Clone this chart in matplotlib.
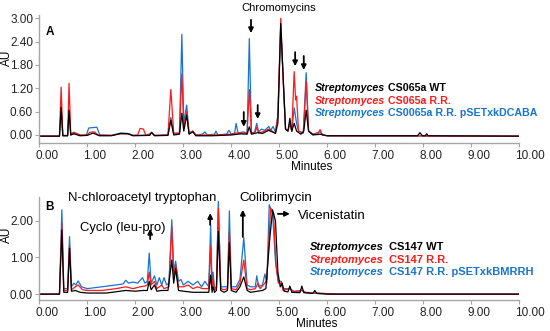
import matplotlib
matplotlib.use("Agg")
import matplotlib.pyplot as plt
import matplotlib.transforms as mtransforms

plt.rcParams['font.family'] = ['Liberation Sans', 'DejaVu Sans']

# ---- panel A : CS065a chromatograms (minutes, AU) ----
a_wt_t = [0, 0.42, 0.455, 0.49, 0.59, 0.62, 0.655, 0.72, 0.85, 1.0, 1.12, 1.25, 1.5, 1.7, 1.85, 1.95,
          2.3, 2.34, 2.4, 2.68, 2.74, 2.8, 2.92, 2.97, 3.01, 3.07, 3.12, 3.2, 3.26, 3.6, 4.0, 4.2,
          4.33, 4.375, 4.42, 4.55, 4.65, 4.78, 4.85, 4.92, 4.97, 5.03, 5.08, 5.13, 5.18, 5.22, 5.26,
          5.31, 5.36, 5.45, 5.51, 5.56, 5.61, 5.7, 5.85, 6.0, 7.88, 7.93, 7.98, 8.04, 8.07, 8.1, 10]
a_wt_y = [-0.03, -0.03, 0.71, -0.02, -0.02, 0.64, 0.0, 0.03, -0.02, -0.01, 0.05, -0.02, -0.02, 0.04, 0.03, -0.02,
          -0.01, 0.07, -0.02, -0.01, 0.38, 0.0, 0.02, 0.56, 0.1, 0.51, 0.02, 0.08, -0.02, -0.02, 0.0, 0.03,
          0.02, 0.21, 0.02, 0.06, 0.04, 0.12, 0.08, 0.04, 0.3, 2.87, 1.5, 0.15, 0.1, 0.43, 0.1,
          0.3, 0.1, 0.02, 0.1, 0.64, 0.1, 0.0, 0.02, -0.02, -0.02, 0.06, -0.02, -0.02, 0.03, -0.02, -0.03]

a_rr_t = [0, 0.42, 0.455, 0.49, 0.59, 0.62, 0.655, 0.72, 0.85, 1.0, 1.05, 1.15, 1.22, 1.5, 1.7, 1.85,
          1.95, 2.05, 2.1, 2.17, 2.22, 2.34, 2.4, 2.68, 2.74, 2.8, 2.92, 2.97, 3.01, 3.07, 3.12, 3.2,
          3.26, 3.6, 4.0, 4.1, 4.2, 4.33, 4.375, 4.42, 4.5, 4.53, 4.57, 4.65, 4.78, 4.85, 4.92, 4.97,
          5.03, 5.08, 5.13, 5.18, 5.22, 5.26, 5.31, 5.34, 5.36, 5.4, 5.5, 5.56, 5.61, 5.7, 5.8, 5.85,
          5.9, 6.0, 10]
a_rr_y = [-0.03, -0.03, 1.23, -0.01, -0.01, 1.33, 0.03, 0.07, 0.0, 0.0, 0.07, 0.08, 0.0, -0.01, 0.03, 0.03,
          -0.01, 0.0, 0.17, 0.15, -0.01, 0.05, -0.01, 0.0, 1.17, 0.05, 0.05, 1.57, 0.2, 0.6, 0.05, 0.1,
          0.0, 0.0, 0.02, 0.05, 0.05, 0.05, 1.17, 0.05, 0.08, 0.2, 0.05, 0.08, 0.15, 0.1, 0.05, 0.5,
          3.0, 1.4, 0.15, 0.1, 0.3, 0.1, 1.63, 0.9, 1.0, 0.1, 0.05, 1.37, 0.1, 0.02, 0.02, 0.14,
          0.0, -0.02, -0.03]

a_px_t = [0, 0.42, 0.455, 0.49, 0.59, 0.62, 0.655, 0.72, 0.85, 0.98, 1.03, 1.2, 1.26, 1.5, 1.7, 1.85,
          1.95, 2.3, 2.34, 2.4, 2.68, 2.74, 2.8, 2.92, 2.97, 3.01, 3.07, 3.12, 3.2, 3.26, 3.4, 3.45,
          3.5, 3.65, 3.68, 3.72, 3.9, 3.95, 4.0, 4.07, 4.1, 4.14, 4.25, 4.33, 4.375, 4.42, 4.48, 4.53,
          4.57, 4.63, 4.7, 4.78, 4.82, 4.87, 4.92, 4.97, 5.03, 5.08, 5.13, 5.18, 5.22, 5.26, 5.31, 5.36,
          5.4, 5.5, 5.56, 5.61, 5.7, 5.85, 5.9, 6.0, 10]
a_px_y = [-0.03, -0.03, 0.7, -0.02, -0.02, 0.62, 0.0, 0.05, -0.01, 0.0, 0.18, 0.2, 0.0, -0.01, 0.05, 0.04,
          -0.01, 0.0, 0.06, -0.01, 0.0, 0.45, 0.03, 0.05, 2.59, 0.3, 0.77, 0.05, 0.1, 0.0, 0.02, 0.08,
          0.0, 0.02, 0.1, 0.0, 0.02, 0.12, 0.02, 0.05, 0.3, 0.05, 0.08, 0.05, 2.48, 0.05, 0.05, 0.3,
          0.08, 0.15, 0.12, 0.22, 0.12, 0.22, 0.08, 0.5, 2.78, 1.5, 0.15, 0.1, 0.3, 0.1, 0.7, 0.3,
          0.1, 0.05, 1.6, 0.1, 0.02, 0.08, 0.0, -0.02, -0.03]

# ---- panel B : CS147 chromatograms ----
b_wt_t = [0, 0.42, 0.47, 0.51, 0.59, 0.63, 0.67, 0.75, 0.85, 1.0, 1.4, 1.8, 2.0, 2.15, 2.25, 2.29,
          2.33, 2.4, 2.45, 2.55, 2.68, 2.76, 2.8, 2.84, 2.9, 3.0, 3.2, 3.5, 3.53, 3.57, 3.6, 3.62,
          3.65, 3.69, 3.73, 3.78, 3.85, 3.92, 3.96, 4.0, 4.1, 4.18, 4.26, 4.33, 4.4, 4.55, 4.65, 4.72,
          4.8, 4.86, 4.92, 4.97, 5.02, 5.06, 5.1, 5.18, 5.22, 5.26, 5.43, 5.47, 5.51, 5.7, 5.74, 5.78,
          6.0, 10]
b_wt_y = [0.0, 0.0, 1.75, 0.05, 0.05, 1.25, 0.08, 0.1, 0.05, 0.03, 0.03, 0.1, 0.08, 0.1, 0.1, 0.35,
          0.12, 0.25, 0.08, 0.1, 0.1, 0.93, 0.3, 0.7, 0.1, 0.08, 0.05, 0.05, 0.05, 0.52, 0.05, 0.2,
          0.05, 0.1, 1.71, 0.1, 0.05, 0.1, 1.4, 0.1, 0.05, 0.2, 0.47, 0.1, 0.05, 0.08, 0.1, 0.15,
          1.5, 2.3, 2.0, 0.6, 0.2, 0.3, 0.08, 0.06, 0.22, 0.05, 0.04, 0.22, 0.04, 0.02, 0.1, 0.02,
          0.0, 0.0]

b_rr_t = [0, 0.42, 0.47, 0.51, 0.59, 0.63, 0.67, 0.75, 0.81, 0.9, 1.0, 1.3, 1.6, 1.8, 1.95, 2.1,
          2.2, 2.25, 2.29, 2.33, 2.4, 2.45, 2.55, 2.6, 2.7, 2.76, 2.8, 2.84, 2.9, 3.0, 3.1, 3.2,
          3.3, 3.4, 3.53, 3.57, 3.6, 3.62, 3.65, 3.69, 3.73, 3.78, 3.85, 3.92, 3.96, 4.0, 4.1, 4.18,
          4.26, 4.33, 4.4, 4.5, 4.56, 4.6, 4.7, 4.74, 4.82, 4.88, 4.93, 4.98, 5.04, 5.08, 5.22, 5.3,
          5.47, 5.55, 5.8, 6.2, 10]
b_rr_y = [0.0, 0.0, 1.94, 0.1, 0.1, 1.34, 0.12, 0.2, 0.25, 0.12, 0.1, 0.1, 0.15, 0.2, 0.15, 0.2,
          0.22, 0.25, 0.6, 0.25, 0.35, 0.15, 0.25, 0.15, 0.2, 1.85, 0.5, 0.8, 0.2, 0.2, 0.25, 0.15,
          0.2, 0.15, 0.15, 1.3, 0.15, 0.4, 0.12, 0.15, 2.35, 0.15, 0.12, 0.15, 1.7, 0.15, 0.12, 0.3,
          0.93, 0.15, 0.12, 0.15, 0.3, 0.15, 0.3, 0.4, 2.35, 2.2, 0.8, 0.3, 0.3, 0.1, 0.15, 0.06,
          0.1, 0.04, 0.02, 0.0, 0.0]

b_px_t = [0, 0.42, 0.47, 0.51, 0.59, 0.63, 0.67, 0.72, 0.76, 0.81, 0.88, 1.0, 1.3, 1.6, 1.75, 1.8,
          1.86, 1.95, 2.05, 2.15, 2.2, 2.25, 2.29, 2.33, 2.4, 2.45, 2.5, 2.55, 2.6, 2.65, 2.7, 2.76,
          2.8, 2.84, 2.9, 2.95, 3.0, 3.1, 3.2, 3.3, 3.38, 3.45, 3.53, 3.57, 3.6, 3.62, 3.65, 3.69,
          3.73, 3.78, 3.85, 3.92, 3.96, 4.0, 4.1, 4.18, 4.26, 4.33, 4.4, 4.5, 4.53, 4.57, 4.65, 4.7,
          4.74, 4.79, 4.86, 4.92, 4.98, 5.04, 5.08, 5.22, 5.3, 5.47, 5.55, 5.8, 6.2, 10]
b_px_y = [0.0, 0.0, 2.3, 0.15, 0.15, 1.57, 0.2, 0.3, 0.25, 0.36, 0.2, 0.15, 0.2, 0.25, 0.28, 0.38,
          0.3, 0.33, 0.3, 0.45, 0.3, 0.35, 1.12, 0.3, 0.5, 0.25, 0.45, 0.25, 0.45, 0.25, 0.3, 2.03,
          0.6, 0.9, 0.35, 0.4, 0.25, 0.35, 0.25, 0.35, 0.2, 0.35, 0.2, 1.89, 0.2, 0.6, 0.15, 0.2,
          2.53, 0.2, 0.2, 0.2, 2.27, 0.2, 0.2, 0.4, 1.54, 0.25, 0.2, 0.2, 0.5, 0.2, 0.25, 0.55,
          0.3, 2.44, 2.2, 0.9, 0.35, 0.35, 0.15, 0.15, 0.08, 0.1, 0.05, 0.03, 0.0, 0.0]

x_ticks = [0, 1, 2, 3, 4, 5, 6, 7, 8, 9, 10]
a_yticks = [0.0, 0.6, 1.2, 1.8, 2.4, 3.0]
b_yticks = [0.0, 1.0, 2.0]

BLUE = '#1874cd'
RED = '#ff1a1a'
GREY = '#a6a6a6'

W, H = 550, 331
fig = plt.figure(figsize=(W / 100, H / 100), dpi=100)


def axes_px(l, t, r, b):
    return fig.add_axes([l / W, 1 - b / H, (r - l) / W, (b - t) / H])


def ftext(x, y, s, **kw):
    fig.text(x / W, 1 - y / H, s, **kw)


def style(ax, yticks, ylim):
    ax.set_xlim(0, 10)
    ax.set_ylim(*ylim)
    ax.set_xticks(x_ticks)
    ax.set_xticklabels(['%.2f' % v for v in x_ticks], ha='left')
    ax.set_yticks(yticks)
    ax.set_yticklabels(['%.2f' % v for v in yticks])
    for s in ['top', 'right']:
        ax.spines[s].set_visible(False)
    for s in ['left', 'bottom']:
        ax.spines[s].set_color(GREY)
        ax.spines[s].set_linewidth(1.0)
    ax.tick_params(axis='both', colors=GREY, labelcolor='#222222', labelsize=8.5, length=3, width=0.8)
    ax.tick_params(axis='x', pad=2)
    ax.tick_params(axis='y', pad=1.5)
    off = mtransforms.ScaledTranslation(-4 / 100, 0, fig.dpi_scale_trans)
    for lab in ax.get_xticklabels():
        lab.set_transform(lab.get_transform() + off)


def arrow(ax, x0, y0, x1, y1):
    ax.annotate('', xy=(x1, y1), xytext=(x0, y0),
                arrowprops=dict(arrowstyle='-|>', color='black', lw=1.3,
                                mutation_scale=7, shrinkA=0, shrinkB=0))


# panel A
axA = axes_px(39.3, 15, 519.3, 143)
axA.plot(a_px_t, a_px_y, color=BLUE, lw=0.9)
axA.plot(a_rr_t, a_rr_y, color=RED, lw=0.9)
axA.plot(a_wt_t, a_wt_y, color='black', lw=0.9)
style(axA, a_yticks, (-0.206, 3.085))
arrow(axA, 4.41, 2.96, 4.41, 2.62)
arrow(axA, 4.26, 0.59, 4.26, 0.21)
arrow(axA, 4.55, 0.77, 4.55, 0.41)
arrow(axA, 5.33, 2.13, 5.33, 1.77)
arrow(axA, 5.51, 2.03, 5.51, 1.67)

# panel B
axB = axes_px(39.3, 197, 519.3, 300)
axB.plot(b_px_t, b_px_y, color=BLUE, lw=0.9)
axB.plot(b_rr_t, b_rr_y, color=RED, lw=0.9)
axB.plot(b_wt_t, b_wt_y, color='black', lw=0.9)
style(axB, b_yticks, (-0.16, 2.65))
arrow(axB, 2.31, 1.50, 2.31, 1.78)
arrow(axB, 3.56, 1.89, 3.56, 2.21)
arrow(axB, 4.24, 1.56, 4.24, 2.30)
arrow(axB, 4.97, 2.19, 5.22, 2.19)

# labels
ftext(50, 32, 'A', fontsize=8.5, fontweight='bold', ha='center', va='center')
ftext(49, 207, 'B', fontsize=8.5, fontweight='bold', ha='center', va='center')
ftext(7, 58, 'AU', fontsize=8.5, rotation=90, ha='center', va='center')
ftext(7, 235, 'AU', fontsize=8.5, rotation=90, ha='center', va='center')
ftext(312, 167, 'Minutes', fontsize=8.5, ha='center', va='center')
ftext(317, 324, 'Minutes', fontsize=8.5, ha='center', va='center')
ftext(279, 8, 'Chromomycins', fontsize=8, ha='center', va='center')
ftext(142.5, 198, 'N-chloroacetyl tryptophan', fontsize=9.4, ha='center', va='center')
ftext(123, 228, 'Cyclo (leu-pro)', fontsize=9.4, ha='center', va='center')
ftext(276, 198, 'Colibrimycin', fontsize=9.6, ha='center', va='center')
ftext(298, 216, 'Vicenistatin', fontsize=9.5, ha='left', va='center')

# legend texts
legA = [('CS065a WT', 'black'), ('CS065a R.R.', RED), ('CS0065a R.R. pSETxkDCABA', BLUE)]
for (txt, c), y in zip(legA, [88, 101, 113]):
    ftext(315, y, 'Streptomyces', fontsize=7.7, fontweight='bold', style='italic', color=c, va='center')
    ftext(388, y, txt, fontsize=7.7, fontweight='bold', color=c, va='center')

legB = [('CS147 WT', 'black'), ('CS147 R.R.', RED), ('CS147 R.R. pSETxkBMRRH', BLUE)]
for (txt, c), y in zip(legB, [247, 260, 272]):
    ftext(310, y, 'Streptomyces', fontsize=8, fontweight='bold', style='italic', color=c, va='center')
    ftext(389, y, txt, fontsize=8, fontweight='bold', color=c, va='center')

fig.savefig('out.png', dpi=100)
